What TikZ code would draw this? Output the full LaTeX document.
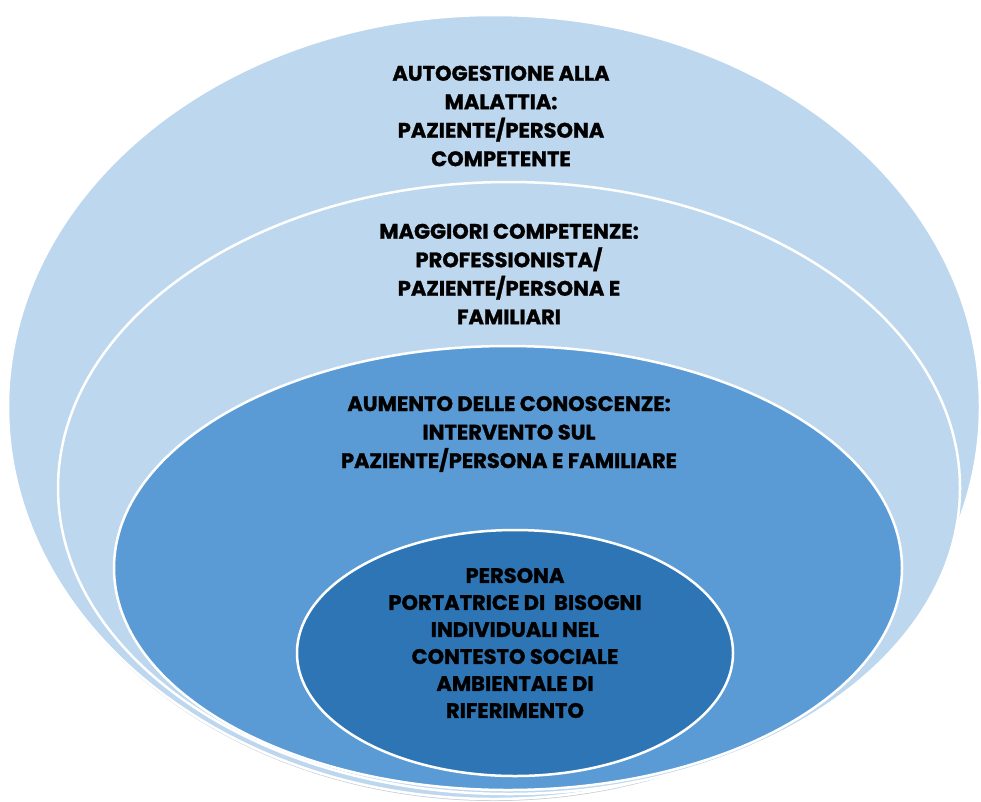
\documentclass[tikz,border=0pt]{standalone}
\usepackage{fontspec}
\setmainfont{Poppins}[BoldFeatures={FakeBold=1.2}]
\definecolor{paleblue}{RGB}{189,215,238}
\definecolor{midblue}{RGB}{91,155,213}
\definecolor{deepblue}{RGB}{46,117,182}
\definecolor{rimshade}{RGB}{200,204,214}
\begin{document}
\begin{tikzpicture}[x=1pt,y=-1pt,
  ring/.style={draw=white,line width=2.5pt},
  caption/.style={align=center,text=black,inner sep=0pt,
    font=\bfseries\fontsize{21}{28.5}\selectfont}]
\useasboundingbox (0,0) rectangle (981,801);
\fill[white] (0,0) rectangle (981,801);

% soft shade under the outer rim
\fill[rimshade] (494,410) ellipse [x radius=485,y radius=391];

% nested ellipses, all resting on the same bottom edge
\path[ring,fill=paleblue] (494,407) ellipse [x radius=486,y radius=392];
\path[ring,fill=paleblue] (509,488) ellipse [x radius=451,y radius=306];
\path[ring,fill=midblue]  (508,568) ellipse [x radius=394,y radius=222];
\path[ring,fill=deepblue] (515,653) ellipse [x radius=218,y radius=123];

% captions
\node[caption] (self) at (501,116)
  {AUTOGESTIONE ALLA\\MALATTIA:\\PAZIENTE/PERSONA\\COMPETENTE};
\node[caption] (skills) at (509,274)
  {MAGGIORI COMPETENZE:\\PROFESSIONISTA/\\PAZIENTE/PERSONA E\\FAMILIARI};
\node[caption] (knowledge) at (509,434)
  {AUMENTO DELLE CONOSCENZE:\\INTERVENTO SUL\\PAZIENTE/PERSONA E FAMILIARE};
\node[caption,font=\bfseries\fontsize{21}{27}\selectfont] (person) at (515,643)
  {PERSONA\\PORTATRICE DI\ \ BISOGNI\\INDIVIDUALI NEL\\CONTESTO SOCIALE\\AMBIENTALE DI\\RIFERIMENTO};
\end{tikzpicture}
\end{document}
